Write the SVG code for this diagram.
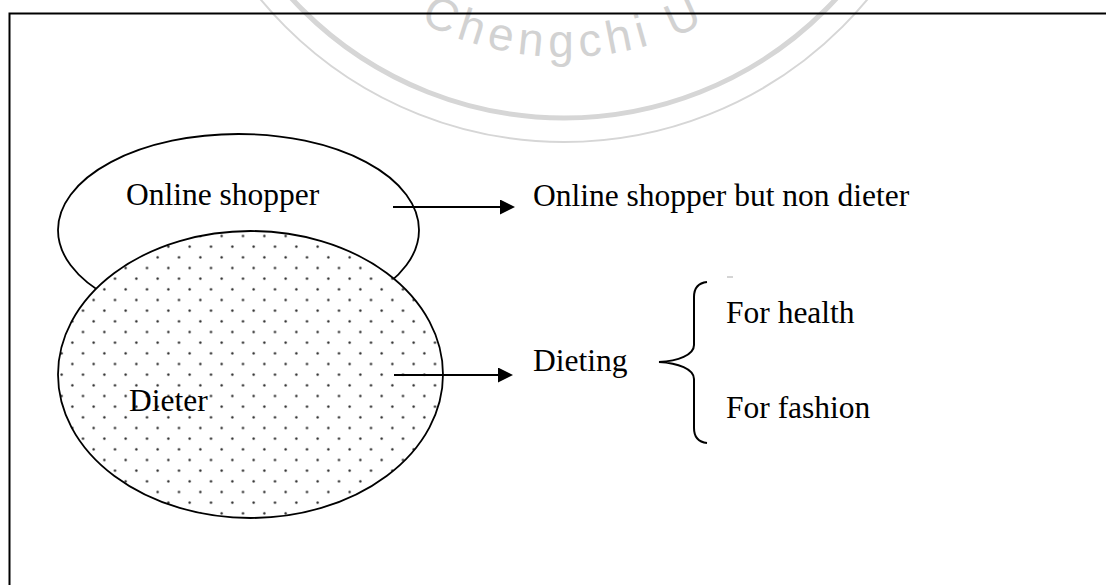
<svg xmlns="http://www.w3.org/2000/svg" width="1106" height="585" viewBox="0 0 1106 585">
<style>
.lbl{font-family:"Liberation Serif","Times New Roman",serif;font-size:31.5px;fill:#000}
.shape{stroke:#000;stroke-width:1.8}
.conn{fill:none;stroke:#000;stroke-width:2}
.wm{fill:none;stroke:#d6d6d6}
.wmt{font-family:"Liberation Sans",Arial,sans-serif;font-size:46px;fill:#d2d2d2;letter-spacing:6px}
</style>
<defs>
<pattern id="dots" patternUnits="userSpaceOnUse" x="13.67" y="6.67" width="21.333" height="21.333">
<circle cx="5.33" cy="5.33" r="1.2" fill="#222"/>
<circle cx="16" cy="16" r="1.2" fill="#222"/>
</pattern>
<marker id="ah" markerUnits="userSpaceOnUse" markerWidth="16" markerHeight="16" refX="0" refY="7.5" orient="auto">
<path d="M0,0 L15,7.5 L0,15 Z" fill="#000"/>
</marker>
<path id="wmpath" d="M420,21.4 A309,309 0 0 0 800.7,-53.4"/>
</defs>
<rect width="1106" height="585" fill="#fff"/>
<g id="watermark">
<circle class="wm" cx="564" cy="-252" r="370" stroke-width="5"/>
<circle class="wm" cx="564" cy="-252" r="394" stroke-width="2"/>
<text class="wmt"><textPath href="#wmpath">Chengchi U</textPath></text>
</g>
<path d="M9.5,590 V13.5 H1110" fill="none" stroke="#000" stroke-width="2"/>
<g id="node-online-shopper">
<ellipse class="shape" cx="238.5" cy="230" rx="180.5" ry="96" fill="#fff"/>
<text class="lbl" x="126" y="205">Online shopper</text>
</g>
<g id="node-dieter">
<ellipse cx="250.5" cy="374.5" rx="192.5" ry="143.5" fill="#fff"/>
<ellipse class="shape" cx="250.5" cy="374.5" rx="192.5" ry="143.5" fill="url(#dots)"/>
<text class="lbl" x="129" y="411">Dieter</text>
</g>
<g id="node-nondieter">
<text class="lbl" x="533" y="206">Online shopper but non dieter</text>
</g>
<g id="node-dieting">
<text class="lbl" x="533" y="371">Dieting</text>
</g>
<g id="node-health">
<text class="lbl" x="726" y="323">For health</text>
</g>
<g id="node-fashion">
<text class="lbl" x="726" y="418">For fashion</text>
</g>
<g id="connectors">
<line class="conn" x1="393" y1="207" x2="500" y2="207" marker-end="url(#ah)"/>
<line class="conn" x1="394" y1="375" x2="498" y2="375" marker-end="url(#ah)"/>
<path class="conn" d="M707,282 C698,283 694,289 694,297 L694,345 C694,355 678,361 659,362 C678,363 694,369 694,379 L694,428 C694,436 698,442 707,443"/>
<line x1="727" y1="277" x2="733" y2="277" stroke="#aaa" stroke-width="1"/>
</g>
</svg>
